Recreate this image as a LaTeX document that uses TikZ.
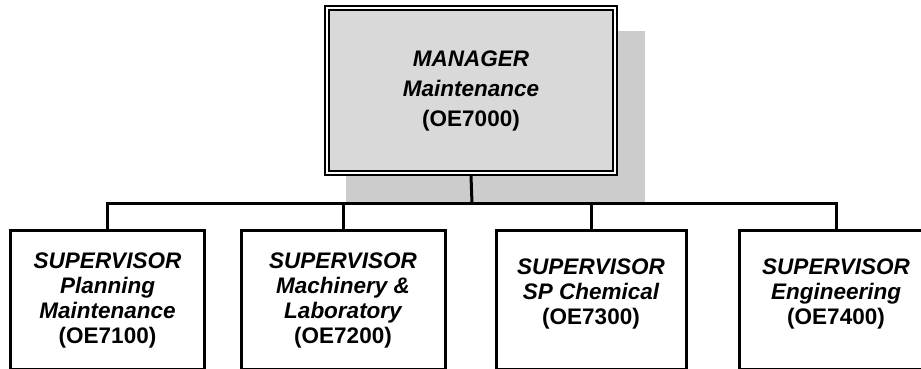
\documentclass[tikz,border=0pt]{standalone}
\usepackage{fontspec}
\setmainfont{Liberation Sans}
\usetikzlibrary{positioning}
\usetikzlibrary{backgrounds}
\definecolor{boxgrey}{HTML}{D9D9D9}
\definecolor{shadowgrey}{HTML}{CCCCCC}
\tikzset{mgrbox/.style = {draw, fill=boxgrey, line width=4pt,
                          minimum width=290pt, minimum height=167pt, inner sep=0}}
\tikzset{supbox/.style = {draw, line width=3pt, minimum height=139pt, inner sep=0}}
\tikzset{boxtext/.style = {align=center, inner sep=0,
                           font=\fontsize{22.5}{25}\selectfont\bfseries\itshape}}
\tikzset{link/.style = {line width=3pt}}

\begin{document}
\begin{tikzpicture}[x=1pt, y=-1pt]
      \useasboundingbox (0,0) rectangle (921,369);
      \clip (0,0) rectangle (921,369);

      % manager
      \node[mgrbox] (mgr) at (471,90.5) {};
      \draw[white, line width=2pt] ([shift={(3,3)}]mgr.north west) rectangle ([shift={(-3,-3)}]mgr.south east);
      \draw[line width=2.2pt] ([shift={(5.1,5.1)}]mgr.north west) rectangle ([shift={(-5.1,-5.1)}]mgr.south east);
      \begin{scope}[on background layer]
        \fill[shadowgrey] ([shift={(22,26)}]mgr.north west) rectangle ([shift={(27,28)}]mgr.south east);
      \end{scope}
      \node[boxtext, font=\fontsize{22.5}{30}\selectfont\bfseries\itshape] (mgrtext) at (mgr)
        {MANAGER\\Maintenance\\\upshape(OE7000)};

      % supervisors
      \node[supbox, minimum width=194pt] (sup1) at (107.5,300) {};
      \node[supbox, minimum width=204pt] (sup2) at (343,300) {};
      \node[supbox, minimum width=190pt] (sup3) at (591,300) {};
      \node[supbox, minimum width=194pt] (sup4) at (836,300) {};
      \node[boxtext] (txt1) at (sup1) {SUPERVISOR\\Planning\\Maintenance\\\upshape(OE7100)};
      \node[boxtext] (txt2) at (sup2) {SUPERVISOR\\Machinery \&\\Laboratory\\\upshape(OE7200)};
      \node[boxtext] (txt3) at ([yshift=6pt]sup3.center) {SUPERVISOR\\SP Chemical\\\upshape(OE7300)};
      \node[boxtext] (txt4) at ([yshift=6pt]sup4.center) {SUPERVISOR\\Engineering\\\upshape(OE7400)};

      % connectors
      \coordinate (bus) at (472,203.5);
      \draw[link] (mgr.south) -- (bus);
      \foreach \s in {sup1,sup2,sup3,sup4}
        \draw[link] (bus) -| (\s.north);
    \end{tikzpicture}
\end{document}
